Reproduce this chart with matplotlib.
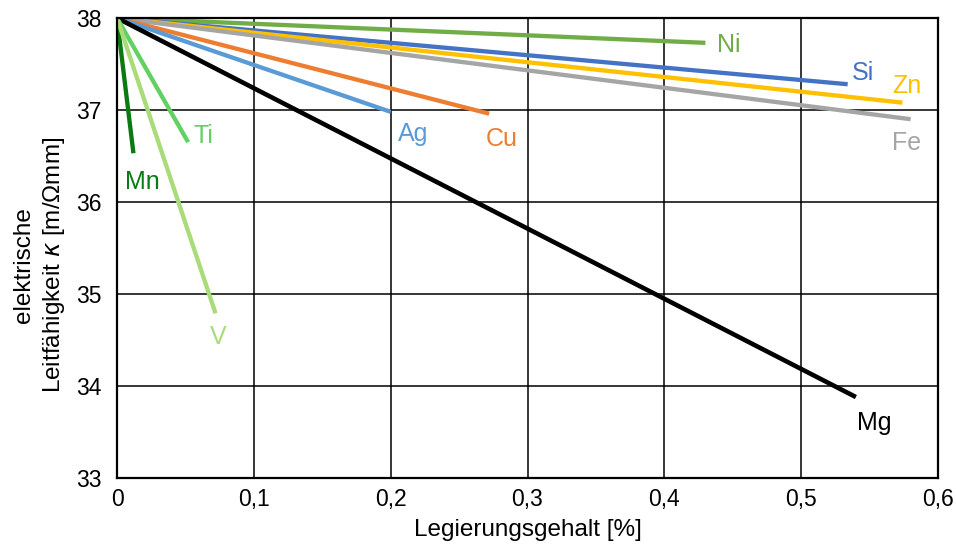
import matplotlib
matplotlib.use("Agg")
import matplotlib.pyplot as plt

plt.rcParams['font.family'] = ['Liberation Sans', 'DejaVu Sans']

# Legierungselemente, Endpunkte der Geraden (Start jeweils bei 0 % / 38)
elements = ['Ni', 'Si', 'Zn', 'Fe', 'Cu', 'Ag', 'Mg', 'Ti', 'Mn', 'V']
gehalt_end = [0.430, 0.534, 0.574, 0.580, 0.272, 0.200, 0.540, 0.052, 0.012, 0.072]
kappa_end = [37.73, 37.28, 37.08, 36.90, 36.96, 36.98, 33.88, 36.65, 36.53, 34.79]
kappa_0 = 38.0

colors = ['#70AD47', '#4472C4', '#FFC000', '#A5A5A5', '#ED7D31', '#5B9BD5',
          '#000000', '#63D063', '#0B7A12', '#A9DC78']
# label offset from line end, in pixels
label_off = [(12, -2), (4, 11), (4, 17), (-4, -24), (13, -25), (22, -22),
             (18, -26), (15, 6), (9, -29), (3, -24)]

xticks = [0, 0.1, 0.2, 0.3, 0.4, 0.5, 0.6]
xticklabels = ['0', '0,1', '0,2', '0,3', '0,4', '0,5', '0,6']
yticks = [33, 34, 35, 36, 37, 38]

fig = plt.figure(figsize=(9.56, 5.45), dpi=100)
ax = fig.add_axes([117/956, 1-478/545, (938-117)/956, (478-18)/545])

for name, xe, ye, c, off in zip(elements, gehalt_end, kappa_end, colors, label_off):
    lw = 3.3 if name == 'Mg' else 3.1
    ax.plot([0, xe], [kappa_0, ye], color=c, lw=lw, solid_capstyle='butt', zorder=3)
    ax.annotate(name, (xe, ye), xytext=(off[0]*0.72, off[1]*0.72),
                textcoords='offset points', color=c, fontsize=18,
                ha='left' if name in ('Ni', 'Si') else 'center', va='center')

ax.set_xlim(0, 0.6)
ax.set_ylim(33, 38)
ax.set_xticks(xticks)
ax.set_xticklabels(xticklabels)
ax.set_yticks(yticks)
ax.grid(True, color='black', lw=1.1, zorder=1)
ax.tick_params(length=0, labelsize=16.5, pad=7)
ax.tick_params(axis='y', pad=11)
for s in ax.spines.values():
    s.set_linewidth(1.6)
    s.set_zorder(4)

ax.set_xlabel('Legierungsgehalt [%]', fontsize=17.5, labelpad=6)
fig.text(40/956, 1-265/545, 'elektrische\nLeitfähigkeit $\\kappa$ [m/Ωmm]',
         rotation=90, ha='center', va='center', multialignment='center',
         fontsize=17.5, linespacing=1.3)

fig.savefig('out.png', dpi=100)
